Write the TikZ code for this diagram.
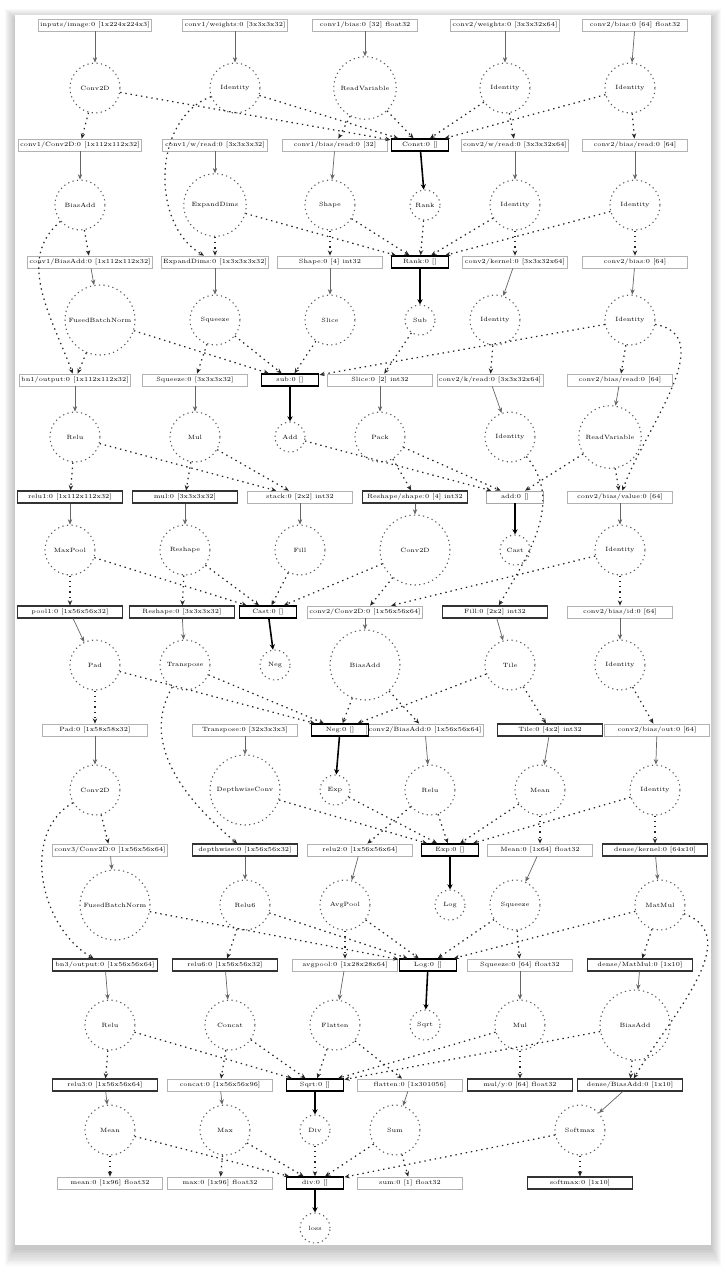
\documentclass[tikz,border=0pt]{standalone}
\usepackage{tikz}
\usetikzlibrary{positioning,calc,arrows.meta}

\tikzset{
  op/.style={draw=black!65, dash pattern=on 0.7pt off 1.9pt, line width=0.6pt, circle, minimum size=1cm, inner sep=0pt, font=\fontsize{3.5}{4}\selectfont},
  opbig/.style={op, minimum size=1.4cm},
  opsmall/.style={op, minimum size=0.6cm},
  tensor/.style={draw=black!30, rectangle, inner sep=1pt, minimum width=2.1cm, minimum height=0.24cm, font=\fontsize{3.5}{4}\selectfont},
  tensorhub/.style={tensor, draw=black, line width=0.8pt, minimum width=1.15cm},
  tensordark/.style={tensor, draw=black!80, line width=0.6pt},
  flow/.style={draw=black!85, dash pattern=on 0.8pt off 2.2pt, line width=0.7pt, -{Stealth[length=3pt,width=2.5pt]}},
  feed/.style={draw=black!60, -{Stealth[length=3pt,width=2.5pt]}},
  feedhub/.style={line width=0.9pt, -{Stealth[length=3pt,width=3pt]}}
}

\begin{document}
\begin{tikzpicture}[x=0.02cm, y=-0.02cm]
    \useasboundingbox (0,0) rectangle (726,1272);
    % page with shadow
    \foreach \i in {1,...,10}
        \fill[black, opacity=0.025] (15-\i, 15-\i+4) rectangle (711+\i, 1245+1.8*\i+3);
    \fill[white] (15,15) rectangle (711,1245);

    % row 0: inputs
    \foreach \n/\x/\l in {a/95/{inputs/image:0 [1x224x224x3]}, b/235/{conv1/weights:0 [3x3x3x32]}, c/365/{conv1/bias:0 [32] float32}, d/505/{conv2/weights:0 [3x3x32x64]}, e/635/{conv2/bias:0 [64] float32}}
        \node [tensor] (t0\n) at (\x,25) {\l};

    % row 1
    \foreach \n/\x/\l in {a/95/Conv2D, b/235/Identity, d/505/Identity, e/630/Identity}
        \node [op] (c1\n) at (\x,88) {\l};
    \node [opbig, minimum size=1.25cm] (c1c) at (365,88) {ReadVariable};

    % row 2
    \foreach \n/\x/\l in {a/80/{conv1/Conv2D:0 [1x112x112x32]}, b/215/{conv1/w/read:0 [3x3x3x32]}, c/335/{conv1/bias/read:0 [32]}, e/515/{conv2/w/read:0 [3x3x32x64]}, f/635/{conv2/bias/read:0 [64]}}
        \node [tensor] (t2\n) at (\x,145) {\l};
    \node [tensorhub] (t2d) at (420,145) {Const:0 []};

    % row 3
    \foreach \n/\x/\l in {a/80/BiasAdd, c/330/Shape, e/515/Identity, f/635/Identity}
        \node [op] (c3\n) at (\x,205) {\l};
    \node [op, minimum size=1.25cm] (c3b) at (215,205) {ExpandDims};
    \node [opsmall] (c3d) at (425,205) {Rank};

    % row 4
    \foreach \n/\x/\l in {a/90/{conv1/BiasAdd:0 [1x112x112x32]}, b/215/{ExpandDims:0 [1x3x3x3x32]}, c/330/{Shape:0 [4] int32}, e/515/{conv2/kernel:0 [3x3x32x64]}, f/635/{conv2/bias:0 [64]}}
        \node [tensor] (t4\n) at (\x,262) {\l};
    \node [tensorhub] (t4d) at (420,262) {Rank:0 []};

    % row 5
    \foreach \n/\x/\l in {b/215/Squeeze, c/330/Slice, e/495/Identity, f/630/Identity}
        \node [op] (c5\n) at (\x,320) {\l};
    \node [opbig] (c5a) at (100,320) {FusedBatchNorm};
    \node [opsmall] (c5d) at (420,320) {Sub};

    % row 6
    \foreach \n/\x/\l in {a/75/{bn1/output:0 [1x112x112x32]}, b/195/{Squeeze:0 [3x3x3x32]}, d/380/{Slice:0 [2] int32}, e/490/{conv2/k/read:0 [3x3x32x64]}, f/620/{conv2/bias/read:0 [64]}}
        \node [tensor] (t6\n) at (\x,380) {\l};
    \node [tensorhub] (t6c) at (290,380) {sub:0 []};

    % row 7
    \foreach \n/\x/\l in {a/75/Relu, b/195/Mul, d/380/Pack, e/510/Identity}
        \node [op] (c7\n) at (\x,437) {\l};
    \node [opsmall] (c7c) at (290,437) {Add};
    \node [op, minimum size=1.25cm] (c7f) at (610,437) {ReadVariable};

    % row 8
    \foreach \n/\x/\l in {a/70/{relu1:0 [1x112x112x32]}, b/185/{mul:0 [3x3x3x32]}, d/415/{Reshape/shape:0 [4] int32}}
        \node [tensordark] (t8\n) at (\x,497) {\l};
    \foreach \n/\x/\l in {c/300/{stack:0 [2x2] int32}, f/620/{conv2/bias/value:0 [64]}}
        \node [tensor] (t8\n) at (\x,497) {\l};
    \node [tensorhub, draw=black!35, line width=0.4pt] (t8e) at (515,497) {add:0 []};

    % row 9
    \foreach \n/\x/\l in {a/70/MaxPool, b/185/Reshape, c/300/Fill, f/620/Identity}
        \node [op] (c9\n) at (\x,550) {\l};
    \node [opbig] (c9d) at (415,550) {Conv2D};
    \node [opsmall] (c9e) at (515,550) {Cast};

    % row 10
    \foreach \n/\x/\l in {a/70/{pool1:0 [1x56x56x32]}, b/182/{Reshape:0 [3x3x3x32]}, e/495/{Fill:0 [2x2] int32}}
        \node [tensordark] (t10\n) at (\x,612) {\l};
    \foreach \n/\x/\l in {d/365/{conv2/Conv2D:0 [1x56x56x64]}, f/620/{conv2/bias/id:0 [64]}}
        \node [tensor] (t10\n) at (\x,612) {\l};
    \node [tensorhub] (t10c) at (268,612) {Cast:0 []};

    % row 11
    \foreach \n/\x/\l in {a/95/Pad, b/185/Transpose, e/510/Tile, f/620/Identity}
        \node [op] (c11\n) at (\x,665) {\l};
    \node [opsmall] (c11c) at (275,665) {Neg};
    \node [opbig] (c11d) at (365,665) {BiasAdd};

    % row 12
    \foreach \n/\x/\l in {a/95/{Pad:0 [1x58x58x32]}, b/245/{Transpose:0 [32x3x3x3]}, d/425/{conv2/BiasAdd:0 [1x56x56x64]}, f/657/{conv2/bias/out:0 [64]}}
        \node [tensor] (t12\n) at (\x,730) {\l};
    \node [tensordark] (t12e) at (550,730) {Tile:0 [4x2] int32};
    \node [tensorhub] (t12c) at (340,730) {Neg:0 []};

    % row 13
    \foreach \n/\x/\l in {a/95/Conv2D, d/430/Relu, e/540/Mean, f/655/Identity}
        \node [op] (c13\n) at (\x,790) {\l};
    \node [opbig] (c13b) at (245,790) {DepthwiseConv};
    \node [opsmall] (c13c) at (335,790) {Exp};

    % row 14
    \foreach \n/\x/\l in {a/110/{conv3/Conv2D:0 [1x56x56x64]}, c/360/{relu2:0 [1x56x56x64]}, e/540/{Mean:0 [1x64] float32}}
        \node [tensor] (t14\n) at (\x,850) {\l};
    \foreach \n/\x/\l in {b/245/{depthwise:0 [1x56x56x32]}, f/655/{dense/kernel:0 [64x10]}}
        \node [tensordark] (t14\n) at (\x,850) {\l};
    \node [tensorhub] (t14d) at (450,850) {Exp:0 []};

    % row 15
    \foreach \n/\x/\l in {b/245/Relu6, c/345/AvgPool, e/515/Squeeze, f/660/MatMul}
        \node [op] (c15\n) at (\x,905) {\l};
    \node [opbig] (c15a) at (115,905) {FusedBatchNorm};
    \node [opsmall] (c15d) at (450,905) {Log};

    % row 16
    \foreach \n/\x/\l in {a/105/{bn3/output:0 [1x56x56x64]}, b/225/{relu6:0 [1x56x56x32]}, f/640/{dense/MatMul:0 [1x10]}}
        \node [tensordark] (t16\n) at (\x,965) {\l};
    \foreach \n/\x/\l in {c/345/{avgpool:0 [1x28x28x64]}, e/520/{Squeeze:0 [64] float32}}
        \node [tensor] (t16\n) at (\x,965) {\l};
    \node [tensorhub] (t16d) at (428,965) {Log:0 []};

    % row 17
    \foreach \n/\x/\l in {a/110/Relu, b/230/Concat, c/335/Flatten, e/520/Mul}
        \node [op] (c17\n) at (\x,1025) {\l};
    \node [opsmall] (c17d) at (425,1025) {Sqrt};
    \node [opbig] (c17f) at (635,1025) {BiasAdd};

    % row 18
    \foreach \n/\x/\l in {a/105/{relu3:0 [1x56x56x64]}, e/520/{mul/y:0 [64] float32}, f/630/{dense/BiasAdd:0 [1x10]}}
        \node [tensordark] (t18\n) at (\x,1085) {\l};
    \foreach \n/\x/\l in {b/220/{concat:0 [1x56x56x96]}, d/410/{flatten:0 [1x301056]}}
        \node [tensor] (t18\n) at (\x,1085) {\l};
    \node [tensorhub] (t18c) at (315,1085) {Sqrt:0 []};

    % row 19
    \foreach \n/\x/\l in {a/110/Mean, b/225/Max, d/395/Sum, e/580/Softmax}
        \node [op] (c19\n) at (\x,1130) {\l};
    \node [opsmall] (c19c) at (315,1130) {Div};

    % row 20
    \foreach \n/\x/\l in {a/110/{mean:0 [1x96] float32}, b/220/{max:0 [1x96] float32}, d/410/{sum:0 [1] float32}}
        \node [tensor] (t20\n) at (\x,1183) {\l};
    \node [tensordark] (t20e) at (580,1183) {softmax:0 [1x10]};
    \node [tensorhub] (t20c) at (315,1183) {div:0 []};

    % row 21
    \node [opsmall] (c21) at (315,1228) {loss};

    % tensor -> op
    \foreach \s/\t in {t0a/c1a, t0b/c1b, t0c/c1c, t0d/c1d, t0e/c1e,
        t2a/c3a, t2b/c3b, t2c/c3c, t2e/c3e, t2f/c3f,
        t4a/c5a, t4b/c5b, t4c/c5c, t4e/c5e, t4f/c5f,
        t6a/c7a, t6b/c7b, t6d/c7d, t6e/c7e, t6f/c7f,
        t8a/c9a, t8b/c9b, t8c/c9c, t8d/c9d, t8f/c9f,
        t10a/c11a, t10b/c11b, t10d/c11d, t10e/c11e, t10f/c11f,
        t12a/c13a, t12b/c13b, t12d/c13d, t12e/c13e, t12f/c13f,
        t14a/c15a, t14b/c15b, t14c/c15c, t14e/c15e, t14f/c15f,
        t16a/c17a, t16b/c17b, t16c/c17c, t16e/c17e, t16f/c17f,
        t18a/c19a, t18b/c19b, t18d/c19d, t18f/c19e}
        \draw [feed] (\s) -- (\t);
    \foreach \s/\t in {t2d/c3d, t4d/c5d, t6c/c7c, t8e/c9e, t10c/c11c, t12c/c13c, t14d/c15d, t16d/c17d, t18c/c19c, t20c/c21}
        \draw [feedhub] (\s) -- (\t);

    % op -> tensor
    \foreach \s/\t in {c1a/t2a, c1c/t2c, c1d/t2e, c1e/t2f,
        c3a/t4a, c3b/t4b, c3c/t4c, c3d/t4d, c3e/t4e, c3f/t4f,
        c5a/t6a, c5b/t6b, c5d/t6d, c5e/t6e, c5f/t6f,
        c7a/t8a, c7b/t8b, c7d/t8d, c7f/t8f,
        c9a/t10a, c9b/t10b, c9c/t10c, c9d/t10d, c9f/t10f,
        c11a/t12a, c11d/t12d, c11e/t12e, c11f/t12f,
        c13a/t14a, c13d/t14c, c13e/t14e, c13f/t14f,
        c15b/t16b, c15c/t16c, c15e/t16e, c15f/t16f,
        c17a/t18a, c17b/t18b, c17c/t18d, c17e/t18e, c17f/t18f,
        c19a/t20a, c19b/t20b, c19c/t20c, c19d/t20d, c19e/t20e}
        \draw [flow] (\s) -- (\t);

    % op -> hub tensor
    \foreach \s/\t in {c1a/t2d, c1b/t2d, c1c/t2d, c1d/t2d, c1e/t2d,
        c3b/t4d, c3c/t4d, c3e/t4d, c3f/t4d,
        c5a/t6c, c5b/t6c, c5c/t6c, c5f/t6c,
        c7c/t8e, c7d/t8e, c7f/t8e, c7a/t8c, c7b/t8c,
        c9a/t10c, c9b/t10c, c9d/t10c, c9f/t10d,
        c11a/t12c, c11b/t12c, c11d/t12c, c11e/t12c,
        c13b/t14d, c13c/t14d, c13d/t14d, c13e/t14d, c13f/t14d,
        c15a/t16d, c15b/t16d, c15c/t16d, c15e/t16d, c15f/t16d,
        c17a/t18c, c17b/t18c, c17c/t18c, c17e/t18c, c17f/t18c,
        c19a/t20c, c19b/t20c, c19d/t20c, c19e/t20c}
        \draw [flow] (\s) -- (\t);

    % long edges
    \draw [flow] (c1b) to [out=200, in=150] (t4b);
    \draw [flow] (c3a) to [out=220, in=110] (t6a);
    \draw [flow] (c5f) to [out=-10, in=70] (t8f);
    \draw [flow] (c7e) to [out=-50, in=60] (t10e);
    \draw [flow] (c11b) to [out=-120, in=140] (t14b);
    \draw [flow] (c13a) to [out=-150, in=150] (t16a);
    \draw [flow] (c15f) to [out=-20, in=60] (t18f);

\end{tikzpicture}
\end{document}
